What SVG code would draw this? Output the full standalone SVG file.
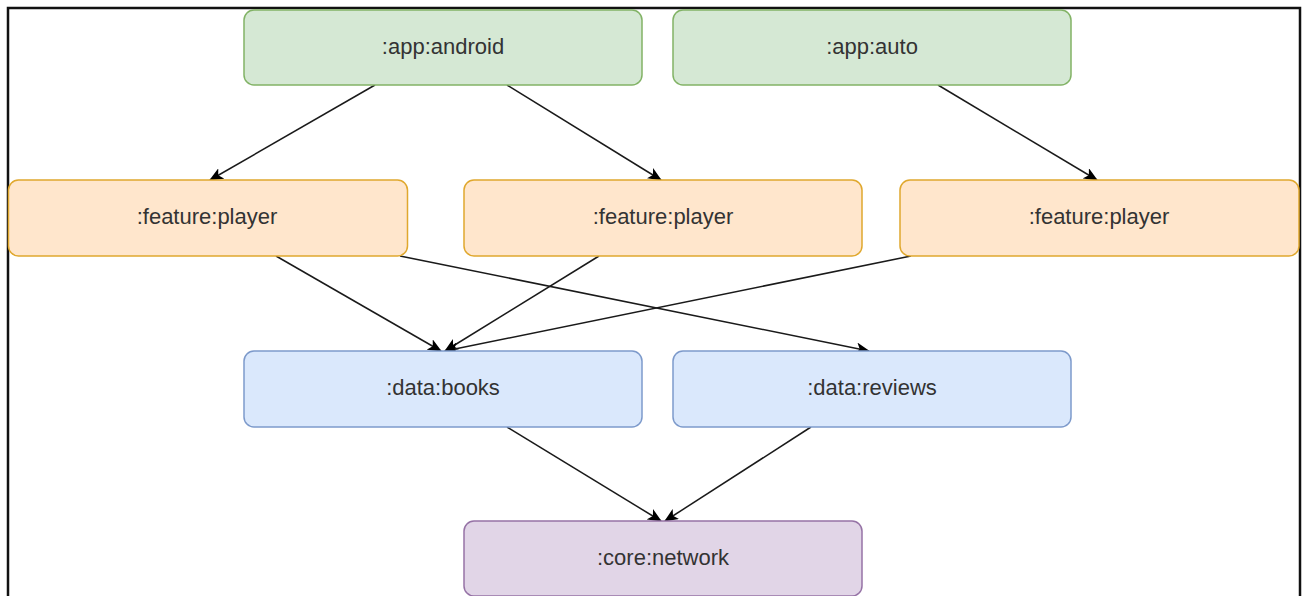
<svg xmlns="http://www.w3.org/2000/svg" width="1305" height="596" viewBox="0 0 1305 596">
<style>
  .node text { font-family: "Liberation Sans", Arial, sans-serif; font-size: 22px; fill: #333333; text-anchor: middle; }
  .green rect { fill: #d5e8d4; stroke: #82b366; stroke-width: 1.5; }
  .orange rect { fill: #ffe6cc; stroke: #e0a82e; stroke-width: 1.5; }
  .blue rect { fill: #dae8fc; stroke: #7d9acb; stroke-width: 1.5; }
  .purple rect { fill: #e1d5e7; stroke: #9673a6; stroke-width: 1.5; }
  #connectors line { stroke: #1a1a1a; stroke-width: 1.5; fill: none; marker-end: url(#arrow); }
</style>
<defs>
  <marker id="arrow" viewBox="0 0 14 12" refX="13" refY="6" markerWidth="14" markerHeight="12" markerUnits="userSpaceOnUse" orient="auto">
    <path d="M0,0 L14,6 L0,12 L3.5,6 Z" fill="#000000"/>
  </marker>
</defs>
<rect x="0" y="0" width="1305" height="596" fill="#ffffff"/>
<rect id="frame" x="8" y="8" width="1292" height="600" fill="none" stroke="#111111" stroke-width="2.5"/>

<g id="connectors">
  <line x1="375" y1="85" x2="210" y2="180"/>
  <line x1="507" y1="85" x2="661" y2="180"/>
  <line x1="938" y1="85" x2="1097" y2="180"/>
  <line x1="276" y1="256" x2="441" y2="351"/>
  <line x1="599" y1="256" x2="445" y2="351"/>
  <line x1="911" y1="256" x2="445" y2="351"/>
  <line x1="400" y1="256" x2="869" y2="351"/>
  <line x1="507" y1="427" x2="661" y2="521"/>
  <line x1="811" y1="427" x2="665" y2="521"/>
</g>

<g id="app-android" class="node green">
  <rect x="244" y="10" width="398" height="75" rx="10"/>
  <text x="443" y="54">:app:android</text>
</g>
<g id="app-auto" class="node green">
  <rect x="673" y="10" width="398" height="75" rx="10"/>
  <text x="872" y="54">:app:auto</text>
</g>
<g id="feature-player-1" class="node orange">
  <rect x="8.5" y="180" width="399" height="76" rx="10"/>
  <text x="207" y="224">:feature:player</text>
</g>
<g id="feature-player-2" class="node orange">
  <rect x="464" y="180" width="398" height="76" rx="10"/>
  <text x="663" y="224">:feature:player</text>
</g>
<g id="feature-player-3" class="node orange">
  <rect x="900" y="180" width="399" height="76" rx="10"/>
  <text x="1099" y="224">:feature:player</text>
</g>
<g id="data-books" class="node blue">
  <rect x="244" y="351" width="398" height="76" rx="10"/>
  <text x="443" y="395">:data:books</text>
</g>
<g id="data-reviews" class="node blue">
  <rect x="673" y="351" width="398" height="76" rx="10"/>
  <text x="872" y="395">:data:reviews</text>
</g>
<g id="core-network" class="node purple">
  <rect x="464" y="521" width="398" height="75" rx="10"/>
  <text x="663" y="565">:core:network</text>
</g>
</svg>
